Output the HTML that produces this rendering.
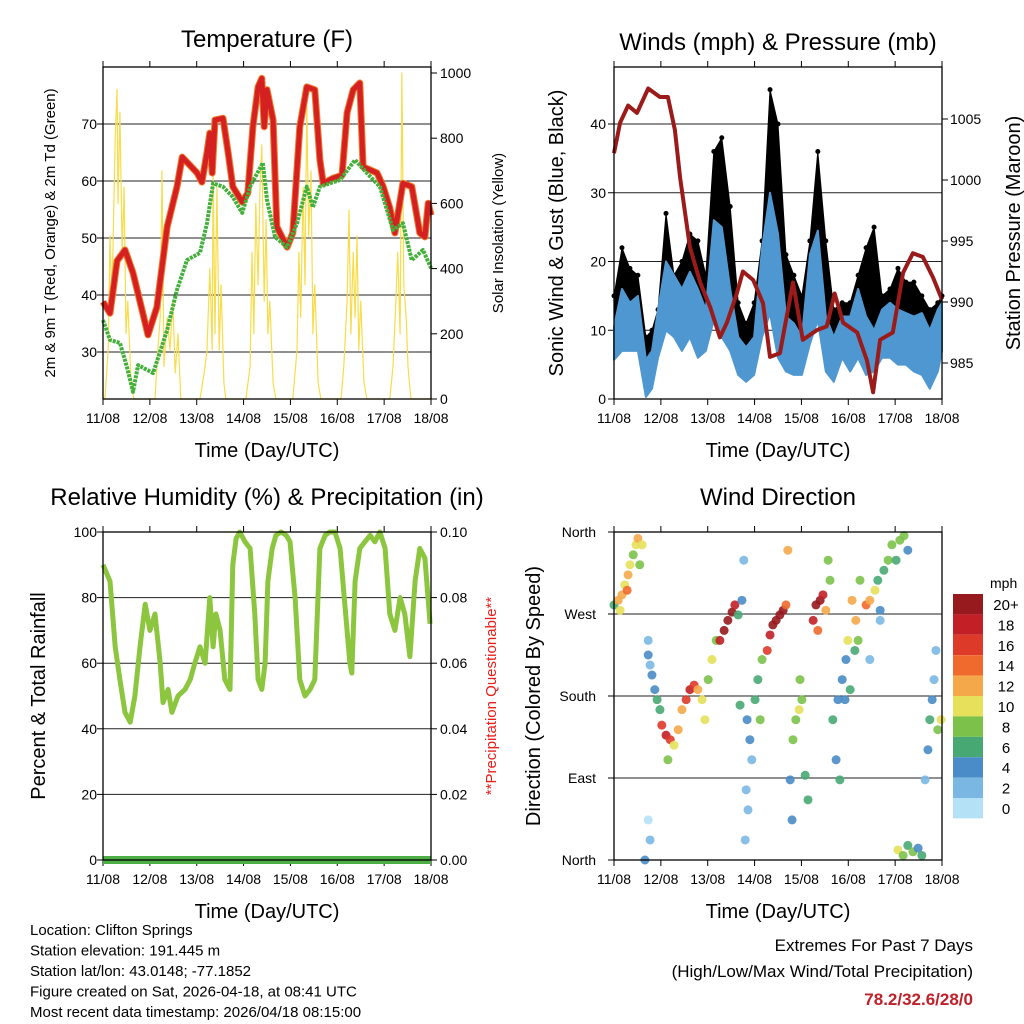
<!DOCTYPE html>
<html><head><meta charset="utf-8"><style>
html,body{margin:0;padding:0;background:#fff;}
svg{display:block;font-family:"Liberation Sans",Arial,sans-serif;}
</style></head><body>
<svg id="chart" width="1024" height="1024" viewBox="0 0 1024 1024"></svg>
<script>
// ---------- DATA ----------
const dayLabels = ["11/08","12/08","13/08","14/08","15/08","16/08","17/08","18/08"];
const tempDays = [0,.15,.30,.47,.64,.85,.96,1.15,1.37,1.58,1.69,2.01,2.11,2.22,2.28,2.33,2.39,2.56,2.67,2.77,2.97,3.09,3.20,3.31,3.39,3.44,3.50,3.63,3.71,3.93,4.05,4.20,4.35,4.52,4.63,4.70,4.91,5.10,5.21,5.34,5.48,5.55,5.85,5.98,6.12,6.23,6.40,6.59,6.76,6.87,6.94,7];
const tempVals = [38.8,36.8,46,47.9,43.9,36.8,33,37.9,52,59,64.2,61.4,59.8,65,68.4,61.4,70.7,71,65,59,56.3,57.9,69.5,76.5,78,69.5,76,70.7,52,48.4,50.9,69.5,76.5,76,63.7,59.6,60.5,61,72,76,77.2,62.5,61.4,59,55.3,50.9,59.6,59,50.9,50.2,56.1,54];
const dewDays = [0,.15,.36,.51,.64,.75,1.07,1.37,1.58,1.79,2.07,2.22,2.35,2.56,2.77,2.97,3.14,3.41,3.50,3.67,3.93,4.14,4.35,4.48,4.63,5.06,5.38,5.63,5.91,6.19,6.40,6.59,6.83,7];
const dewVals = [35.6,32.1,31.6,27.4,23,27.7,26.3,33.9,40.9,46.1,47.4,52.6,59.6,59,57.2,54.4,59,63.2,56.7,50.2,48.4,52.6,59,55.4,59,60.2,63.7,61.4,59,51.4,52.6,46.1,47.9,44.7];
const solarDays = [0,.04,.11,.15,.19,.26,.30,.32,.36,.41,.45,.49,.53,.60,.66,1.11,1.17,1.22,1.26,1.30,1.37,1.43,1.49,1.54,1.60,1.66,2.07,2.16,2.22,2.28,2.33,2.35,2.39,2.43,2.48,2.52,2.58,2.62,3.05,3.14,3.18,3.22,3.26,3.31,3.35,3.39,3.44,3.48,3.52,3.56,3.63,3.69,4.05,4.14,4.18,4.22,4.27,4.31,4.35,4.39,4.44,4.48,4.52,4.59,4.65,5.08,5.14,5.21,5.25,5.29,5.34,5.38,5.42,5.46,5.50,5.57,5.63,6.12,6.19,6.25,6.29,6.34,6.38,6.42,6.47,6.51,6.57,7];
const solarVals = [0,0,150,500,300,800,950,600,880,450,650,200,300,50,0,0,150,250,700,100,250,150,300,80,200,0,0,80,150,400,150,700,200,650,150,350,50,0,0,100,450,200,600,350,650,780,300,550,200,300,50,0,0,150,450,250,650,350,900,500,700,200,350,50,0,0,100,300,580,200,450,250,500,150,300,50,0,0,100,300,450,200,1000,350,250,100,0,0];
const windDays = [0,.17,.34,.51,.68,.81,.94,1.11,1.28,1.45,1.62,1.79,1.96,2.13,2.30,2.48,2.65,2.82,2.99,3.16,3.33,3.50,3.67,3.84,4.01,4.18,4.35,4.52,4.69,4.87,5.04,5.21,5.38,5.55,5.72,5.89,6.06,6.23,6.40,6.57,6.74,6.91,7];
const windHi = [10.5,16,14,15,5.7,7,13,20,18,16,18.5,16,13,26,25,16,9,7.5,9,22,30,24,12,11,9,21,24.5,12,9,12,12,16,12,10,13,14,13,12.5,12,12.5,10,13,14];
const windLo = [5.7,7,7,7,0.3,1.5,6,10,9,7,9,6,7,11.5,9,7,3.5,2.5,3.5,9,12.5,6,4,3.5,3.5,8,11.5,4,2.5,6,4,6,3.5,4,6,6,5,5,4,3.5,1.5,4,7];
const gustHi = [15,22,19,18,9,10,13,27,18,20,24,23,18,36,38,28,14,11,14,23,45,40,21,18,15,23,36,23,13,14,14,18,22,25,15,16,19,17,17,15,13,14,15];
const presDays = [0,.13,.30,.49,.73,.98,1.15,1.30,1.41,1.62,1.84,2.05,2.26,2.41,2.62,2.75,2.97,3.18,3.33,3.54,3.82,4.03,4.33,4.54,4.71,4.89,5.19,5.40,5.53,5.68,5.95,6.17,6.38,6.59,6.81,7];
const presVals = [1002.2,1004.7,1006.1,1005.5,1007.5,1006.8,1006.8,1004.1,1000.2,994.5,991.6,989.6,987.1,988.3,990.7,992.5,991.8,989.9,985.5,985.8,991.6,986.9,987.7,988,990.7,988.3,987.5,985.2,982.6,986.9,987.5,992.4,994,993.7,992,990.2];
const rhDays = [0,.15,.26,.36,.47,.58,.68,.79,.90,1.0,1.11,1.22,1.28,1.39,1.47,1.60,1.75,1.86,1.96,2.07,2.18,2.28,2.35,2.41,2.50,2.60,2.71,2.77,2.84,2.92,3.03,3.14,3.24,3.31,3.39,3.46,3.52,3.61,3.69,3.80,3.91,3.99,4.10,4.20,4.31,4.42,4.52,4.63,4.74,4.84,4.95,5.06,5.16,5.27,5.31,5.38,5.48,5.59,5.70,5.80,5.91,6.02,6.12,6.23,6.34,6.44,6.55,6.66,6.76,6.87,6.98];
const rhVals = [90,85,65,55,45,42,50,65,78,70,75,60,48,52,45,50,52,55,60,65,60,80,65,75,70,55,52,90,98,100,97,95,75,55,52,60,85,95,99,100,99,97,80,55,50,52,55,95,99,100,100,95,78,60,57,85,95,97,99,97,100,95,75,70,80,75,62,85,95,92,72];
const wdDays = [0,.09,.17,.23,.30,.34,.41,.47,.51,.60,.55,.13,.28, .73,.77,.81,.87,.92,.98,.73, 1.02,1.11,1.20,1.28,1.15,1.37,1.45,1.54,1.62,1.71,1.79,1.88,1.94, 2.01,2.09,2.18,2.26,2.35,2.43,2.52,2.58,2.65,2.73,2.77, 2.84,2.90,2.94,2.82,2.86,2.80,3.01,3.07,3.12,3.16,2.69, 3.27,3.33,3.39,3.46,3.54,3.61,3.67,3.71, 3.82,3.88,3.95,4.01,3.76,3.80,3.97,4.08,4.14, 4.25,4.31,4.40,4.46,4.52,4.35,4.61,4.57, 4.67,4.78,4.87,4.95,5.04,5.14,5.21,4.74,4.82,4.99,5.08,5.16,5.25,4.93, 5.38,5.46,5.57,5.68,5.76,5.85,5.93,6.02,6.10,6.19,6.27,5.68,5.46,5.63, 6.06,6.17,6.27,6.38,6.49,6.57, 6.64,6.70,6.74,6.79,6.83,6.91,6.98,6.87, .73,.77,.66];
const wdDirs = [280,285,291,302,313,324,335,346,353,346,324,274,296, 225,214,203,187,176,165,241, 148,137,132,126,110,143,165,176,187,192,187,176,154, 198,220,241,241,252,263,272,280,269,285,329, 154,132,110,77,55,22,176,198,154,220,170, 230,247,258,263,269,274,280,340, 132,154,165,176,88,44,198,93,66, 263,280,285,291,274,252,307,329, 154,176,198,220,187,230,241,110,88,241,285,263,307,176, 280,285,296,274,318,329,346,329,351,356,340,263,220,307, 11,5,16,9,13,5, 88,121,154,176,198,143,154,230, 44,22,0];
const wdSpeeds = [7,12,13,11,12,10,8,10,13,10,8,11,14, 4,3,4,5,6,6,3, 17,18,16,10,8,12,13,16,19,17,12,10,11, 8,10,9,19,20,21,22,18,6,4,3, 4,4,3,2,3,2,6,7,9,8,6, 16,19,20,21,22,20,14,12, 8,9,10,8,5,4,9,6,6, 18,20,21,19,13,15,8,9, 6,5,4,4,6,7,9,5,6,10,13,12,8,4, 14,12,10,4,7,8,9,7,8,9,4,3,3,7, 10,8,6,9,5,7, 2,4,7,4,2,8,10,2, 1,2,4];
const cbLabels = ["20+","18","16","14","12","10","8","6","4","2","0"];
const cbColors = ["#961a1e","#c21f26","#de3a2a","#ef6a2c","#f5a84a","#e6e05a","#7cc24a","#48a873","#4a8cc7","#7ab8e3","#b5e1f7"];
const tempTicks = [30,40,50,60,70];
const solarTicks = [0,200,400,600,800,1000];
const windTicks = [0,10,20,30,40];
const presTicks = [985,990,995,1000,1005];
const rhTicks = [0,20,40,60,80,100];
const precipTicks = ["0.00","0.02","0.04","0.06","0.08","0.10"];
const dirTicks = ["North","East","South","West","North"];

// ---------- HELPERS ----------
const NS = "http://www.w3.org/2000/svg";
const svg = document.getElementById("chart");
function mk(tag, attrs, parent){
  const e = document.createElementNS(NS, tag);
  for (const k in attrs) e.setAttribute(k, attrs[k]);
  (parent || svg).appendChild(e);
  return e;
}
function txt(s, x, y, size, anchor, parent, extra){
  const t = mk("text", Object.assign({x:x, y:y, "font-size":size, "text-anchor":anchor||"middle", fill:"#000"}, extra||{}), parent);
  t.textContent = s;
  return t;
}
function xs(P){ return d => P.x0 + d/7*(P.x1-P.x0); }
function pathOf(xsArr, ysArr, fx, fy){
  let s = "";
  for (let i=0;i<xsArr.length;i++) s += (i?"L":"M") + fx(xsArr[i]).toFixed(1) + "," + fy(ysArr[i]).toFixed(1);
  return s;
}
function frame(P, name){
  const g = mk("g", {});
  
  
  const fx = xs(P);
  for (let i=0;i<8;i++){
    const x = fx(i);
    mk("line",{x1:x,y1:P.y0,x2:x,y2:P.y0-6,stroke:"#000","stroke-width":1},g);
    mk("line",{x1:x,y1:P.y1,x2:x,y2:P.y1+6,stroke:"#000","stroke-width":1},g);
    const t = txt(dayLabels[i], x, P.y1+24, 14, "middle", g);
    
    
  }
  const at = txt("Time (Day/UTC)", (P.x0+P.x1)/2, P.y1+58, 20, "middle", g);
  
  
  return g;
}
function border(P, g){
  mk("rect",{x:P.x0,y:P.y0,width:P.x1-P.x0,height:P.y1-P.y0,fill:"none",stroke:"#000","stroke-width":1.3},g);
}
function leftTicks(P, g, vals, labels, fy, lx){
  vals.forEach((v,i)=>{
    const y = fy(v);
    mk("line",{x1:P.x0,y1:y,x2:P.x1,y2:y,stroke:"#222","stroke-width":1},g);
    mk("line",{x1:P.x0,y1:y,x2:P.x0-6,y2:y,stroke:"#000","stroke-width":1},g);
    const t = txt(labels[i], lx, y+5, 14, "end", g);
    
    
  });
}
function rightTicks(P, g, vals, labels, fy, rx){
  vals.forEach((v,i)=>{
    const y = fy(v);
    mk("line",{x1:P.x1,y1:y,x2:P.x1+6,y2:y,stroke:"#000","stroke-width":1},g);
    const t = txt(labels[i], rx, y+5, 14, "start", g);
    
    
  });
}
function vtext(s, x, y, size, color, g, name){
  const t = txt(s, 0, 0, size, "middle", g, {transform:`translate(${x},${y}) rotate(-90)`, fill:color||"#000"});
  
  
}
function title(s, x, y, name){
  const t = txt(s, x, y, 24, "middle");
  
  
}

// ---------- PANEL 1: TEMPERATURE ----------
const P1 = {x0:103,x1:431,y0:67,y1:399};
title("Temperature (F)", 267, 47, "temperature-title");
const g1 = frame(P1, "temperature-panel");
const fx1 = xs(P1);
const fyT = v => 352 - (v-30)*5.7;
const fyS = w => 399 - w*0.326;
leftTicks(P1, g1, tempTicks, tempTicks.map(String), fyT, 97);
rightTicks(P1, g1, solarTicks, solarTicks.map(String), fyS, 440);
const solar = mk("path",{d:pathOf(solarDays,solarVals,fx1,fyS),fill:"none",stroke:"#f8dc4a","stroke-width":1.2,"stroke-linejoin":"round"},g1);


const t9 = mk("path",{d:pathOf(tempDays,tempVals,fx1,fyT),fill:"none",stroke:"#f07a2a","stroke-width":7,"stroke-linejoin":"round"},g1);


const t2 = mk("path",{d:pathOf(tempDays,tempVals,fx1,fyT),fill:"none",stroke:"#d42020","stroke-width":5,"stroke-linejoin":"round"},g1);


const dew = mk("path",{d:pathOf(dewDays,dewVals,fx1,fyT),fill:"none",stroke:"#44b03c","stroke-width":4,"stroke-dasharray":"3 1","stroke-linejoin":"round"},g1);


border(P1, g1);
vtext("2m & 9m T (Red, Orange) & 2m Td (Green)", 55, 233, 15, "#000", g1, "temp-y-axis-title");
vtext("Solar Insolation (Yellow)", 503, 233, 15, "#000", g1, "solar-y-axis-title");

// ---------- PANEL 2: WINDS ----------
const P2 = {x0:614,x1:942,y0:67,y1:399};
title("Winds (mph) & Pressure (mb)", 778, 50, "winds-title");
const g2 = frame(P2, "winds-panel");
const fx2 = xs(P2);
const fyW = v => 399 - v*6.875;
const fyP = p => 363 - (p-985)*12.2;
leftTicks(P2, g2, windTicks, windTicks.map(String), fyW, 606);
rightTicks(P2, g2, presTicks, presTicks.map(String), fyP, 950);
function band(hi, lo){
  let s = pathOf(windDays, hi, fx2, fyW);
  for (let i=windDays.length-1;i>=0;i--) s += "L" + fx2(windDays[i]).toFixed(1) + "," + fyW(Math.max(0,lo[i])).toFixed(1);
  return s + "Z";
}
const gustBand = mk("path",{d:band(gustHi,windLo),fill:"#000",stroke:"#000","stroke-width":1,"stroke-linejoin":"round"},g2);


gustHi.forEach((v,i)=>{
  const c = mk("circle",{cx:fx2(windDays[i]),cy:fyW(v),r:2.5,fill:"#000"},g2);
  
  
});
const windBand = mk("path",{d:band(windHi,windLo),fill:"#4f97d0",stroke:"#4f97d0","stroke-width":2,"stroke-linejoin":"round"},g2);


const pres = mk("path",{d:pathOf(presDays,presVals,fx2,fyP),fill:"none",stroke:"#9b1b1b","stroke-width":4,"stroke-linejoin":"round"},g2);


border(P2, g2);
vtext("Sonic Wind & Gust (Blue, Black)", 563, 233, 20, "#000", g2, "wind-y-axis-title");
vtext("Station Pressure (Maroon)", 1020, 233, 20, "#000", g2, "pressure-y-axis-title");

// ---------- PANEL 3: RH ----------
const P3 = {x0:103,x1:431,y0:532,y1:860};
title("Relative Humidity (%) & Precipitation (in)", 267, 505, "humidity-title");
const g3 = frame(P3, "humidity-panel");
const fx3 = xs(P3);
const fyR = v => 860 - v*3.28;
leftTicks(P3, g3, rhTicks, rhTicks.map(String), fyR, 97);
rightTicks(P3, g3, rhTicks, precipTicks, fyR, 440);
const rh = mk("path",{d:pathOf(rhDays,rhVals,fx3,fyR),fill:"none",stroke:"#8cc63f","stroke-width":5,"stroke-linejoin":"round"},g3);


const pr = mk("rect",{x:P3.x0,y:856,width:P3.x1-P3.x0,height:8,fill:"#4cae44"},g3);


border(P3, g3);
vtext("Percent & Total Rainfall", 45, 696, 20, "#000", g3, "humidity-y-axis-title");
vtext("**Precipitation Questionable**", 496, 696, 15, "#e8201c", g3, "precip-warning");

// ---------- PANEL 4: WIND DIRECTION ----------
const P4 = {x0:614,x1:942,y0:532,y1:860};
title("Wind Direction", 778, 505, "wind-direction-title");
const g4 = frame(P4, "wind-direction-panel");
const fx4 = xs(P4);
const fyD = d => 860 - d/360*328;
leftTicks(P4, g4, [0,90,180,270,360], dirTicks, fyD, 596);
function spdColor(s){ const k = Math.min(10, Math.floor(s/2)); return cbColors[10-k]; }
wdDays.forEach((d,i)=>{
  const c = mk("circle",{cx:fx4(d),cy:fyD(wdDirs[i]),r:4.5,fill:spdColor(wdSpeeds[i]),"fill-opacity":0.9},g4);
  
  
});
border(P4, g4);
vtext("Direction (Colored By Speed)", 540, 696, 20, "#000", g4, "direction-y-axis-title");

// colorbar
const cb = mk("g",{});


const cbt = txt("mph", 990, 588, 14, "start", cb);


cbColors.forEach((c,i)=>{
  const y = 594 + i*20.4;
  const r = mk("rect",{x:953,y:y,width:30,height:20.4,fill:c},cb);
  
  
  const t = txt(cbLabels[i], 1006, y+16, 15, "middle", cb);
  
  
});

// ---------- FOOTER TEXT ----------
const info = ["Location: Clifton Springs","Station elevation: 191.445 m","Station lat/lon: 43.0148; -77.1852","Figure created on Sat, 2026-04-18, at 08:41 UTC","Most recent data timestamp: 2026/04/18 08:15:00"];
info.forEach((s,i)=>{
  const t = txt(s, 30, 935 + i*20.5, 15, "start");
  
  
});
const e1 = txt("Extremes For Past 7 Days", 973, 951, 17, "end");


const e2 = txt("(High/Low/Max Wind/Total Precipitation)", 973, 977, 17, "end");


const e3 = txt("78.2/32.6/28/0", 973, 1005, 17, "end", null, {fill:"#c0202a","font-weight":"bold"});


</script>
</body></html>
